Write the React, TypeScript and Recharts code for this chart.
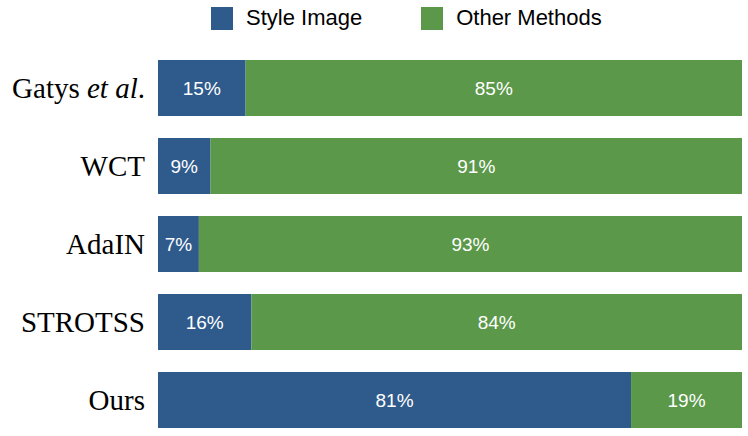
import React from "react";
import { BarChart, Bar, XAxis, YAxis, Legend, LabelList } from "recharts";

const categories = ["Gatys et al.", "WCT", "AdaIN", "STROTSS", "Ours"];
const styleImage = [15, 9, 7, 16, 81];
const otherMethods = [85, 91, 93, 84, 19];
const seriesNames = ["Style Image", "Other Methods"];
const colors = ["#2F5A8C", "#5B9849"];

const data = categories.map((name, i) => ({
  name,
  styleImg: styleImage[i],
  otherM: otherMethods[i],
}));

const serif = "'Liberation Serif', 'Times New Roman', serif";
const sans = "'Liberation Sans', Arial, Helvetica, sans-serif";

const Tick = (props: any) => {
  const { x, y, payload } = props;
  const v: string = payload.value;
  const isGatys = v.indexOf("et al.") >= 0;
  return (
    <text
      x={x}
      y={y}
      textAnchor="end"
      dominantBaseline="central"
      fontFamily={serif}
      fontSize={29}
      fill="#000"
    >
      {isGatys ? (
        <>
          <tspan>Gatys </tspan>
          <tspan fontStyle="italic">et al</tspan>
          <tspan>.</tspan>
        </>
      ) : (
        v
      )}
    </text>
  );
};

const LegendContent = () => (
  <div
    style={{
      display: "flex",
      alignItems: "center",
      paddingLeft: 211,
      paddingTop: 2,
      height: 32,
      fontFamily: sans,
      fontSize: 22,
      color: "#000",
    }}
  >
    <div style={{ width: 22, height: 23, background: colors[0] }} />
    <span style={{ marginLeft: 13 }}>{seriesNames[0]}</span>
    <div style={{ width: 22, height: 23, background: colors[1], marginLeft: 59 }} />
    <span style={{ marginLeft: 13 }}>{seriesNames[1]}</span>
  </div>
);

const fmt = (v: any) => `${v}%`;

export default function App() {
  return (
    <div style={{ position: "absolute", left: 0, top: 0, background: "#fff" }}>
      <BarChart
        width={748}
        height={436}
        data={data}
        layout="vertical"
        margin={{ top: 15, right: 6, bottom: -3, left: 0 }}
      >
        <XAxis type="number" domain={[0, 100]} hide />
        <YAxis
          type="category"
          dataKey="name"
          width={158}
          axisLine={false}
          tickLine={false}
          tickSize={0}
          tickMargin={13}
          tick={<Tick />}
          interval={0}
        />
        <Legend
          verticalAlign="top"
          align="left"
          content={<LegendContent />}
          wrapperStyle={{ top: 0, left: 0, width: 748 }}
        />
        <Bar dataKey="styleImg" name={seriesNames[0]} stackId="a" fill={colors[0]} barSize={56} isAnimationActive={false}>
          <LabelList dataKey="styleImg" position="center" formatter={fmt} fill="#fff" fontFamily={sans} fontSize={19} />
        </Bar>
        <Bar dataKey="otherM" name={seriesNames[1]} stackId="a" fill={colors[1]} barSize={56} isAnimationActive={false}>
          <LabelList dataKey="otherM" position="center" formatter={fmt} fill="#fff" fontFamily={sans} fontSize={19} />
        </Bar>
      </BarChart>
    </div>
  );
}
